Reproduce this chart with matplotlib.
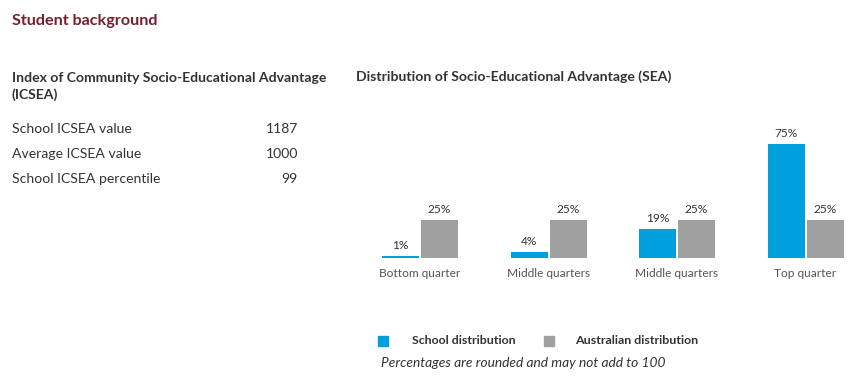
import matplotlib.pyplot as plt
import numpy as np

# ---------------- data ----------------
groups = ['Bottom quarter', 'Middle quarters', 'Middle quarters', 'Top quarter']
school = [1, 4, 19, 75]
australia = [25, 25, 25, 25]

icsea_labels = ['School ICSEA value', 'Average ICSEA value', 'School ICSEA percentile']
icsea_values = ['1187', '1000', '99']

blue = '#00A0DF'
grey = '#A0A0A0'
maroon = '#7A1E2E'
txt = '#333333'

plt.rcParams['font.family'] = ['Lato', 'DejaVu Sans']

W, H = 865, 391
fig = plt.figure(figsize=(W / 100, H / 100), dpi=100)


def fx(px):
    return px / W


def fy(py):
    return 1 - py / H


# ---------------- left text block ----------------
fig.text(fx(12), fy(21), 'Student background', color=maroon, fontsize=11.6,
         fontweight='bold', va='center')
fig.text(fx(12), fy(78), 'Index of Community Socio-Educational Advantage',
         color=txt, fontsize=10.1, fontweight='bold', va='center')
fig.text(fx(12), fy(95), '(ICSEA)', color=txt, fontsize=10.1,
         fontweight='bold', va='center')
for i, (lab, val) in enumerate(zip(icsea_labels, icsea_values)):
    y = 129 + i * 25
    fig.text(fx(12), fy(y), lab, color=txt, fontsize=10.1, va='center')
    fig.text(fx(298), fy(y), val, color=txt, fontsize=10.1, va='center', ha='right')

# ---------------- bar chart ----------------
fig.text(fx(356), fy(77), 'Distribution of Socio-Educational Advantage (SEA)',
         color=txt, fontsize=10.1, fontweight='bold', va='center')

unit = 128.5   # px per group
ppp = 1.52     # px per percent
left_px, right_px = 360, 860
base_px = 258
ax_h = 140
ax = fig.add_axes([fx(left_px), (H - base_px) / H, (right_px - left_px) / W, ax_h / H])
ax.set_xlim((left_px - 420) / unit, (right_px - 420) / unit)
ax.set_ylim(0, ax_h / ppp)
ax.axis('off')

x = np.arange(len(groups))
bw = 37 / unit
off = 19.5 / unit
b1 = ax.bar(x - off, school, bw, color=blue)
b2 = ax.bar(x + off, australia, bw, color=grey)
for bars in (b1, b2):
    for r in bars:
        ax.text(r.get_x() + r.get_width() / 2, r.get_height() + 3.5,
                f'{r.get_height():.0f}%', ha='center', va='bottom',
                fontsize=8.6, color=txt)
for xi, g in zip(x, groups):
    ax.text(xi, -10, g, ha='center', va='center', fontsize=8.6, color='#555555')

# ---------------- legend ----------------
fig.patches.append(plt.Rectangle((fx(378), fy(346)), fx(10), 10 / H,
                                 color=blue, transform=fig.transFigure))
fig.patches.append(plt.Rectangle((fx(544), fy(346)), fx(10), 10 / H,
                                 color=grey, transform=fig.transFigure))
fig.text(fx(412), fy(340), 'School distribution', color=txt, fontsize=8.9,
         fontweight='bold', va='center')
fig.text(fx(575), fy(340), 'Australian distribution', color=txt, fontsize=8.9,
         fontweight='bold', va='center')
fig.text(fx(381), fy(363), 'Percentages are rounded and may not add to 100',
         color=txt, fontsize=9.9, style='italic', va='center')

fig.savefig('out.png', dpi=100, facecolor='white')
